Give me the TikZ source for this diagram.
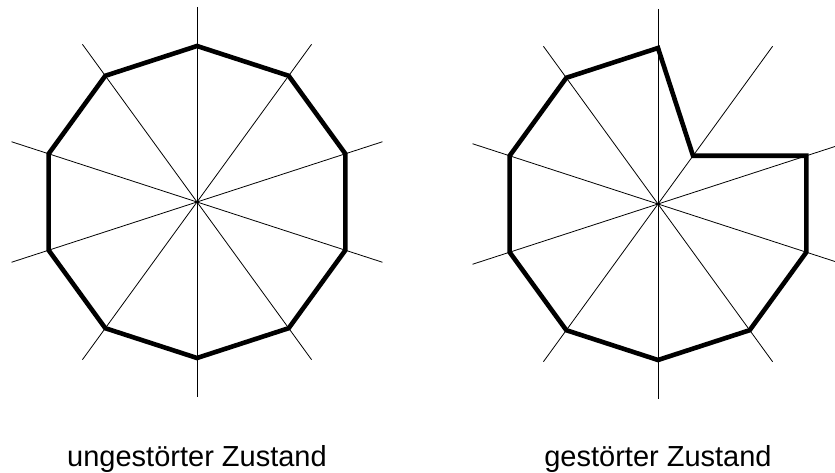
\documentclass[tikz,border=0pt]{standalone}
\usepackage{fontspec}
\setmainfont{Liberation Sans}
\usepackage{tikz}
\usetikzlibrary{positioning,calc}
\tikzstyle{spoke}=[black, line width=0.8pt]
\tikzstyle{rim}=[black, line width=4.6pt, line join=miter]
\tikzstyle{caption}=[anchor=base, inner sep=0pt, font=\fontsize{29}{34}\selectfont]

\begin{document}
\begin{tikzpicture}[x=1pt, y=1pt]
\clip (0,0) rectangle (835,472);
\coordinate (m1) at (197,270);
\coordinate (m2) at (658,268);
\foreach \c in {m1,m2}
  \foreach \a in {90,54,...,-54}
    \draw[spoke, shift={(\c)}] (\a:195) -- (\a+180:195);
\draw[rim, shift={(m1)}] (90:156) \foreach \a in {54,18,...,-234} { -- (\a:156) } -- cycle;
\draw[rim, shift={(m2)}] (90:156) -- (54:59.6) \foreach \a in {18,-18,...,-234} { -- (\a:156) } -- cycle;
\node[caption] (lab1) at (197,6) {ungestörter Zustand};
\node[caption] (lab2) at (658,6) {gestörter Zustand};
\end{tikzpicture}
\end{document}
